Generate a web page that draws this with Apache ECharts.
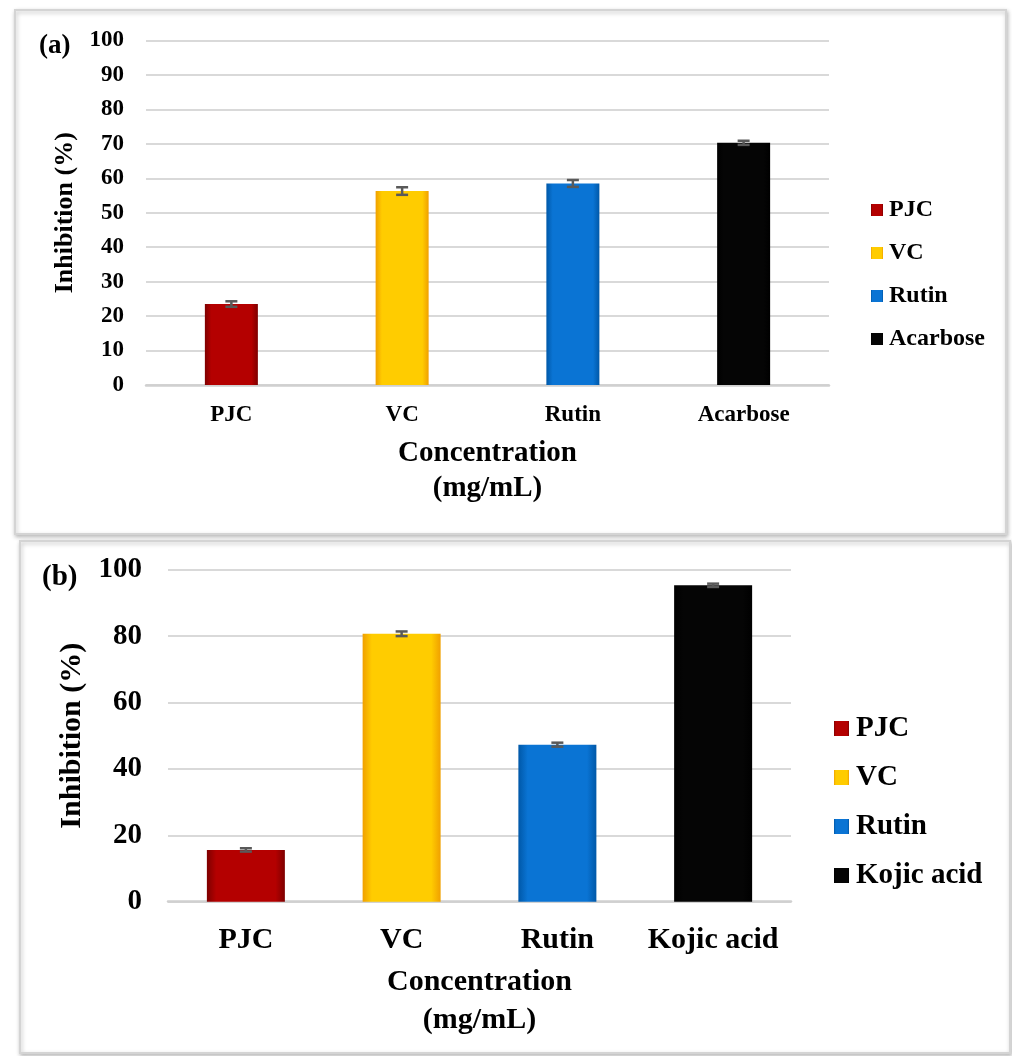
<!DOCTYPE html>
<html><head><meta charset="utf-8">
<script src="https://cdn.jsdelivr.net/npm/echarts@6/dist/echarts.min.js"></script>
<style>html,body{margin:0;padding:0;background:#fff}#c{width:1012px;height:1056px}</style>
</head><body><div id="c"></div>
<script>
// Panel (a)
const categoriesA = ['PJC', 'VC', 'Rutin', 'Acarbose'];
const valuesA = [23.5, 56.3, 58.5, 70.3];
const errorsA = [0.8, 1.1, 1.0, 0.6];
// Panel (b)
const categoriesB = ['PJC', 'VC', 'Rutin', 'Kojic acid'];
const valuesB = [15.6, 80.7, 47.3, 95.3];
const errorsB = [0.5, 0.7, 0.6, 0.5];
// Axis settings
const yAxisA = { min: 0, max: 100, interval: 10 };
const yAxisB = { min: 0, max: 100, interval: 20 };
const xTitle = 'Concentration\n(mg/mL)';
const yTitle = 'Inhibition (%)';

const FONT = '"Liberation Serif", "Times New Roman", serif';
const colorsFill = [
  ['#7e0000', '#b40000', '#7e0000'],
  ['#f0a000', '#ffcc00', '#f0a000'],
  ['#0058a8', '#0a74d4', '#0058a8'],
  ['#000000', '#050505', '#000000']
];
function grad(c) {
  return new echarts.graphic.LinearGradient(0, 0, 1, 0, [
    { offset: 0, color: c[0] }, { offset: 0.12, color: c[1] },
    { offset: 0.88, color: c[1] }, { offset: 1, color: c[2] }]);
}
const legendColors = ['#b40000', '#ffcc00', '#0a74d4', '#000000'];

function barSeries(cats, vals, gi, bw) {
  return cats.map((name, i) => ({
    name: name, type: 'bar', xAxisIndex: gi, yAxisIndex: gi,
    barWidth: bw, barGap: '-100%',
    itemStyle: { color: grad(colorsFill[i]) },
    color: legendColors[i],
    data: cats.map((c, j) => (j === i ? vals[j] : '-')),
    z: 2
  }));
}
function errSeries(vals, errs, gi) {
  return {
    type: 'custom', xAxisIndex: gi, yAxisIndex: gi, z: 5, silent: true,
    data: vals.map((v, i) => [i, v, errs[i]]),
    renderItem: function (params, api) {
      const x = api.value(0), v = api.value(1), e = api.value(2);
      const lo = api.coord([x, v - e]), hi = api.coord([x, v + e]);
      const hw = 6;
      const st = { stroke: '#595959', lineWidth: 2.5 };
      return { type: 'group', children: [
        { type: 'line', shape: { x1: lo[0], y1: lo[1], x2: hi[0], y2: hi[1] }, style: st },
        { type: 'line', shape: { x1: lo[0] - hw, y1: lo[1], x2: lo[0] + hw, y2: lo[1] }, style: st },
        { type: 'line', shape: { x1: hi[0] - hw, y1: hi[1], x2: hi[0] + hw, y2: hi[1] }, style: st }
      ]};
    }
  };
}

const chart = echarts.init(document.getElementById('c'));
chart.setOption({
  animation: false,
  backgroundColor: '#ffffff',
  textStyle: { fontFamily: FONT },
  graphic: [
    { type: 'rect', z: -10, shape: { x: 15, y: 10, width: 991, height: 524 },
      style: { fill: '#fff', stroke: '#d4d4d4', lineWidth: 2, shadowBlur: 4, shadowColor: 'rgba(0,0,0,0.25)', shadowOffsetX: 1, shadowOffsetY: 2 } },
    { type: 'rect', z: -10, shape: { x: 20, y: 541, width: 990, height: 512 },
      style: { fill: '#fff', stroke: '#d4d4d4', lineWidth: 2, shadowBlur: 4, shadowColor: 'rgba(0,0,0,0.25)', shadowOffsetX: 1, shadowOffsetY: 2 } },
    { type: 'text', left: 39, top: 33, style: { text: '(a)', font: 'bold 27px ' + FONT, fill: '#000' } },
    { type: 'text', left: 42, top: 563, style: { text: '(b)', font: 'bold 29px ' + FONT, fill: '#000' } }
  ],
  grid: [
    { left: 146, right: 183, top: 40.5, bottom: 671 },
    { left: 168, right: 221, top: 569.7, bottom: 154.3 }
  ],
  legend: [
    { orient: 'vertical', left: 866, top: 193, itemWidth: 12, itemHeight: 12, itemGap: 19, icon: 'rect',
      data: categoriesA, textStyle: { fontFamily: FONT, fontWeight: 'bold', fontSize: 24, lineHeight: 24, color: '#000', padding: [0, 0, 0, 1] } },
    { orient: 'vertical', left: 829, top: 709, itemWidth: 15, itemHeight: 15, itemGap: 20, icon: 'rect',
      data: categoriesB, textStyle: { fontFamily: FONT, fontWeight: 'bold', fontSize: 29, lineHeight: 29, color: '#000', padding: [0, 0, 0, 2] } }
  ],
  xAxis: [
    { type: 'category', gridIndex: 0, data: categoriesA,
      axisLine: { lineStyle: { color: '#d0d0d0', width: 2.5 } }, axisTick: { show: false },
      axisLabel: { interval: 0, fontFamily: FONT, fontWeight: 'bold', fontSize: 23, color: '#000', margin: 19 },
      name: xTitle, nameLocation: 'middle', nameGap: 51,
      nameTextStyle: { fontFamily: FONT, fontWeight: 'bold', fontSize: 29, lineHeight: 35, color: '#000' } },
    { type: 'category', gridIndex: 1, data: categoriesB,
      axisLine: { lineStyle: { color: '#d0d0d0', width: 2.5 } }, axisTick: { show: false },
      axisLabel: { interval: 0, hideOverlap: false, fontFamily: FONT, fontWeight: 'bold', fontSize: 30, color: '#000', margin: 24 },
      name: xTitle, nameLocation: 'middle', nameGap: 62,
      nameTextStyle: { fontFamily: FONT, fontWeight: 'bold', fontSize: 30, lineHeight: 38, color: '#000' } }
  ],
  yAxis: [
    { type: 'value', gridIndex: 0, min: yAxisA.min, max: yAxisA.max, interval: yAxisA.interval,
      axisLine: { show: false }, axisTick: { show: false },
      splitLine: { lineStyle: { color: '#d9d9d9', width: 2 } },
      axisLabel: { fontFamily: FONT, fontWeight: 'bold', fontSize: 23, color: '#000', margin: 22 },
      name: yTitle, nameLocation: 'middle', nameGap: 60, nameRotate: 90,
      nameTextStyle: { fontFamily: FONT, fontWeight: 'bold', fontSize: 26, color: '#000' } },
    { type: 'value', gridIndex: 1, min: yAxisB.min, max: yAxisB.max, interval: yAxisB.interval,
      axisLine: { show: false }, axisTick: { show: false },
      splitLine: { lineStyle: { color: '#d9d9d9', width: 2 } },
      axisLabel: { fontFamily: FONT, fontWeight: 'bold', fontSize: 29, color: '#000', margin: 26 },
      name: yTitle, nameLocation: 'middle', nameGap: 68, nameRotate: 90,
      nameTextStyle: { fontFamily: FONT, fontWeight: 'bold', fontSize: 30, color: '#000' } }
  ],
  series: [].concat(
    barSeries(categoriesA, valuesA, 0, 53),
    [errSeries(valuesA, errorsA, 0)],
    barSeries(categoriesB, valuesB, 1, 78),
    [errSeries(valuesB, errorsB, 1)]
  )
});
</script></body></html>
